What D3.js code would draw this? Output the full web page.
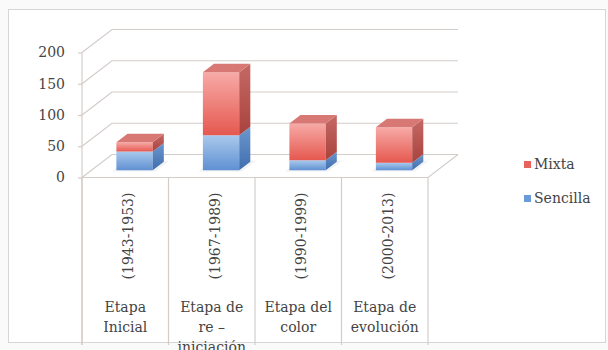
<!DOCTYPE html>
<html>
<head>
<meta charset="utf-8">
<script src="https://cdn.jsdelivr.net/npm/d3@7"></script>
<style>
  body { margin: 0; background: #fafafa; }
  text { font-family: "DejaVu Serif", serif; fill: #444; }
</style>
</head>
<body>
<div id="chart"></div>
<script>
// data
const categories = ["Etapa Inicial", "Etapa de re – iniciación", "Etapa del color", "Etapa de evolución"];
const labelLines = [["Etapa", "Inicial"], ["Etapa de", "re –", "iniciación"], ["Etapa del", "color"], ["Etapa de", "evolución"]];
const periods = ["(1943-1953)", "(1967-1989)", "(1990-1999)", "(2000-2013)"];
const sencilla = [30, 56, 16, 12];
const mixta = [15, 101, 59, 57];
const yTicks = [0, 50, 100, 150, 200];
const seriesNames = ["Mixta", "Sencilla"];

const W = 608, H = 350;
const svg = d3.select("#chart").append("svg").attr("width", W).attr("height", H);

// frame
svg.append("rect").attr("x", 8.5).attr("y", 9.5).attr("width", 597).attr("height", 333)
  .attr("fill", "#fff").attr("stroke", "#d6d6d6");

const x = d3.scaleBand().domain(categories).range([82, 428]);
const y = d3.scaleLinear().domain([0, 200]).range([177.5, 52.5]);
const DX = 30, DY = -23; // depth offset of the back wall

function proj(px, v, z) { return [px + DX * z, y(v) + DY * z]; }
function poly(pts) { return "M" + pts.map(p => p.join(",")).join("L") + "Z"; }

const grid = svg.append("g").attr("stroke", "#d3cdca").attr("fill", "none").attr("stroke-width", 1.2);

// back wall gridlines + left wall diagonals
yTicks.forEach(t => {
  const a = proj(82, t, 0), b = proj(82, t, 1), c = proj(428, t, 1);
  grid.append("path").attr("d", "M" + a + "L" + b + "L" + c);
});
// floor front + right edges
grid.append("path").attr("d", "M" + proj(82, 0, 0) + "L" + proj(428, 0, 0) + "L" + proj(428, 0, 1));
// front vertical axis
grid.append("line").attr("x1", 82).attr("x2", 82).attr("y1", y(200)).attr("y2", 345);
// category cell dividers
x.domain().concat([null]).forEach((c, i) => {
  const px = 82 + i * x.bandwidth();
  grid.append("line").attr("x1", px).attr("x2", px).attr("y1", y(0)).attr("y2", 345);
});

// y axis labels
const yAxis = d3.axisLeft(y).tickValues(yTicks).tickSize(4).tickPadding(13);
const ya = svg.append("g").attr("transform", "translate(82,0)").call(yAxis);
ya.select(".domain").remove();
ya.selectAll(".tick line").attr("stroke", "#d3cdca").attr("stroke-width", 1.2);
ya.selectAll(".tick text").attr("font-family", "DejaVu Serif").attr("font-size", 14).attr("fill", "#4a4a4a");

// gradients
const defs = svg.append("defs");
function grad(id, c1, c2, horiz) {
  const g = defs.append("linearGradient").attr("id", id)
    .attr("x1", 0).attr("y1", 0).attr("x2", horiz ? 1 : 0).attr("y2", horiz ? 0 : 1);
  g.append("stop").attr("offset", "0%").attr("stop-color", c1);
  g.append("stop").attr("offset", "100%").attr("stop-color", c2);
}
grad("redFront", "#f7aaa7", "#e5584f");
grad("redSide", "#c56965", "#a9423d");
grad("blueFront", "#a9c9ec", "#5f90d2");
grad("blueSide", "#6c97cf", "#3f6eae");

const fills = {
  Sencilla: { front: "url(#blueFront)", side: "url(#blueSide)", top: "#8fb3e0" },
  Mixta: { front: "url(#redFront)", side: "url(#redSide)", top: "#d77874" }
};

const z0 = 0.31, z1 = 0.68;
const bw = x.bandwidth() * 0.42;

// floor shadows
const bars = svg.append("g");
categories.forEach((c, i) => {
  const cx = x(c) + x.bandwidth() / 2;
  const xl = cx - bw / 2, xr = cx + bw / 2;
  bars.append("path").attr("fill", "#ececec").attr("opacity", 0.7)
    .attr("d", poly([proj(xl - 3, 0, z0 - 0.05), proj(xr + 4, 0, z0 - 0.05), proj(xr + 4, 0, z1 + 0.05), proj(xl - 3, 0, z1 + 0.05)]));
});

categories.forEach((c, i) => {
  const cx = x(c) + x.bandwidth() / 2;
  const xl = cx - bw / 2, xr = cx + bw / 2;
  const segs = [
    { name: "Sencilla", v0: 0, v1: sencilla[i] },
    { name: "Mixta", v0: sencilla[i], v1: sencilla[i] + mixta[i] }
  ];
  segs.forEach((s, k) => {
    const f = fills[s.name];
    const g = bars.append("g");
    g.append("path").attr("fill", f.front)
      .attr("d", poly([proj(xl, s.v1, z0), proj(xr, s.v1, z0), proj(xr, s.v0, z0), proj(xl, s.v0, z0)]));
    g.append("path").attr("fill", f.side)
      .attr("d", poly([proj(xr, s.v1, z0), proj(xr, s.v1, z1), proj(xr, s.v0, z1), proj(xr, s.v0, z0)]));
    if (k === segs.length - 1) {
      g.append("path").attr("fill", f.top)
        .attr("d", poly([proj(xl, s.v1, z0), proj(xl, s.v1, z1), proj(xr, s.v1, z1), proj(xr, s.v1, z0)]));
    }
  });
});

// category labels
const cat = svg.append("g");
categories.forEach((c, i) => {
  const cx = x(c) + x.bandwidth() / 2;
  cat.append("text")
    .attr("transform", "translate(" + (cx + 3) + ",236) rotate(-90)")
    .attr("text-anchor", "middle").attr("dominant-baseline", "central")
    .attr("font-size", 14).text(periods[i]);
  labelLines[i].forEach((ln, j) => {
    cat.append("text").attr("x", cx).attr("y", 312 + j * 20)
      .attr("text-anchor", "middle").attr("font-size", 14).text(ln);
  });
});

// legend
const legColors = { Mixta: "#e8625b", Sencilla: "#6a9bd9" };
const leg = svg.append("g");
seriesNames.forEach((n, i) => {
  const ly = 169 + i * 34;
  leg.append("rect").attr("x", 524).attr("y", ly - 8).attr("width", 7).attr("height", 7).attr("fill", legColors[n]);
  leg.append("text").attr("x", 534).attr("y", ly).attr("font-size", 14).text(n);
});
</script>
</body>
</html>
